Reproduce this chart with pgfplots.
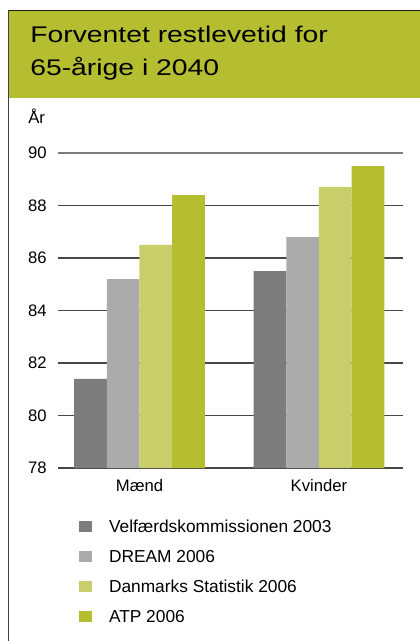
\documentclass[border=0pt]{standalone}
\usepackage{fontspec}
\setmainfont{Liberation Sans}
\newfontfamily\titlefont{Liberation Sans}[FakeStretch=1.25]
\usepackage{pgfplots}
\pgfplotsset{compat=1.18}
\definecolor{cA}{HTML}{7B7C7B}
\definecolor{cB}{HTML}{ABABAB}
\definecolor{cC}{HTML}{C8CE6A}
\definecolor{cD}{HTML}{B5BE31}
\definecolor{gridc}{HTML}{474747}
\definecolor{gridtop}{HTML}{7C7C7C}
\begin{document}
\begin{tikzpicture}
\useasboundingbox (0,0) rectangle (315pt,-480.75pt);
\begin{scope}[x=0.75pt,y=-0.75pt]
\fill[cD] (8,11) rectangle (420,98);
\draw[line width=1.1pt, black!90] (8,10.5) -- (420,10.5);
\draw[line width=1.1pt, black!75] (8.5,10) -- (8.5,641);
\node[anchor=base west, inner sep=0pt, font=\titlefont\fontsize{17}{20}\selectfont] at (30,43) {Forventet restlevetid for};
\node[anchor=base west, inner sep=0pt, font=\titlefont\fontsize{17}{20}\selectfont] at (30,76) {65-årige i 2040};
\node[anchor=base west, inner sep=0pt, font=\fontsize{12.5}{15}\selectfont] at (28,124) {År};
\end{scope}
\begin{axis}[
  at={(43.5pt,-351pt)}, anchor=south west,
  scale only axis, width=258.75pt, height=236.25pt,
  xmin=-0.454, xmax=1.468, ymin=78, ymax=90,
  ybar=0pt, bar width=24.5pt,
  axis line style={draw=none},
  major tick length=0pt,
  tick style={draw=none},
  xtick={0,1}, xticklabels={Mænd,Kvinder},
  ytick={78,80,...,88},
  extra y ticks={90},
  extra y tick style={grid style={color=gridtop, line width=1pt}},
  ymajorgrids,
  grid style={color=gridc, line width=1pt},
  /pgf/number format/assume math mode=true,
  tick label style={font=\fontsize{12.5}{15}\selectfont},
  yticklabel style={anchor=east, inner sep=0pt, xshift=-8.25pt},
  xticklabel style={anchor=north, inner sep=0pt, yshift=-8.5pt},
  legend style={
    at={(0.0609,-0.1597)}, anchor=north west,
    draw=none, fill=none, inner sep=0pt, outer sep=0pt,
    font=\fontsize{13}{15}\selectfont,
    nodes={inner sep=0pt, text height=11pt, text depth=1.2pt},
    row sep=10.3pt, column sep=12.5pt,
  },
  legend cell align=left,
  legend image code/.code={\fill[#1] (0pt,-4.25pt) rectangle (10pt,4.25pt);},
]
\addplot[fill=cA, draw=none] coordinates {(0,81.4) (1,85.5)};
\addplot[fill=cB, draw=none] coordinates {(0,85.2) (1,86.8)};
\addplot[fill=cC, draw=none] coordinates {(0,86.5) (1,88.7)};
\addplot[fill=cD, draw=none] coordinates {(0,88.4) (1,89.5)};
\legend{Velfærdskommissionen 2003, DREAM 2006, Danmarks Statistik 2006, ATP 2006}
\end{axis}
\end{tikzpicture}
\end{document}
